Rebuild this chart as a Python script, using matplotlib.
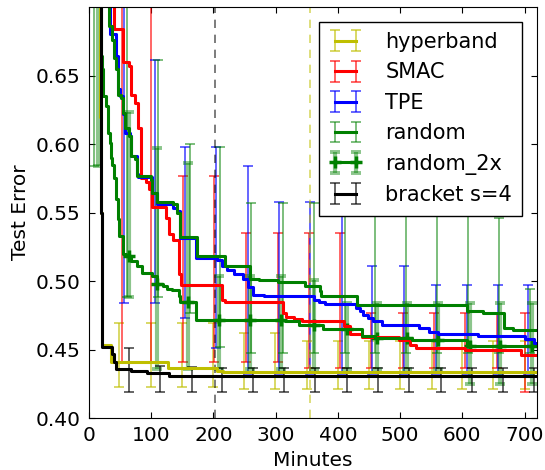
import numpy as np
import matplotlib
matplotlib.use('Agg')
import matplotlib.pyplot as plt

# ---- data (minutes, test error) ----
t_max = 720

hb_x = [0, 18, 19.5, 20.5, 35, 127, 205, 215]
hb_y = [0.90, 0.62, 0.55, 0.4534, 0.441, 0.4368, 0.4345, 0.4333]
hb_ex = [49, 99, 149, 199, 249, 299, 350, 400, 450, 500, 551, 600, 650, 700]
hb_lo = [0.423] * 4 + [0.421] * 10
hb_hi = [0.469] * 4 + [0.462, 0.462] + [0.456] * 8

sm_x = [0, 40, 54, 64, 68, 74, 78, 83, 91, 97, 102, 124, 128, 135, 144, 148,
        213, 219, 312, 317, 330, 342, 410, 420, 438, 499, 516, 525, 605, 695]
sm_y = [0.90, 0.684, 0.660, 0.657, 0.636, 0.630, 0.612, 0.575, 0.572, 0.567,
        0.554, 0.546, 0.534, 0.530, 0.505, 0.497, 0.486, 0.485, 0.477, 0.474,
        0.472, 0.471, 0.467, 0.461, 0.459, 0.457, 0.453, 0.451, 0.450, 0.446]
sm_ex = [53, 100, 151, 201, 253, 303, 353, 403, 453, 505, 555, 605, 656, 700]
sm_lo = [0.441] * 6 + [0.4365] * 7 + [0.419]
sm_hi = [0.90, 0.90, 0.577, 0.577, 0.535, 0.535, 0.535, 0.535,
         0.477, 0.477, 0.477, 0.477, 0.477, 0.477]

tp_x = [0, 34, 43, 46, 50, 54, 58, 65.5, 68, 77, 79.5, 101, 110, 135, 141, 147,
        172, 205, 213, 222, 233, 247, 256, 263, 281, 362, 370, 379, 429, 435,
        440, 448, 457, 471, 530, 547, 561, 625, 700, 715]
tp_y = [0.90, 0.680, 0.664, 0.640, 0.635, 0.622, 0.608, 0.606, 0.591, 0.578,
        0.576, 0.564, 0.5565, 0.553, 0.551, 0.5315, 0.517, 0.5156, 0.511, 0.508,
        0.505, 0.5015, 0.4957, 0.490, 0.489, 0.486, 0.485, 0.4835, 0.480, 0.478,
        0.4755, 0.473, 0.4706, 0.468, 0.4657, 0.463, 0.4616, 0.4596, 0.4577, 0.455]
tp_ex = [57, 106, 155, 204, 256, 306, 355, 407, 455, 506, 557, 607, 657, 705]
tp_lo = [0.484, 0.484, 0.473, 0.451] + [0.432] * 10
tp_hi = [0.90, 0.661, 0.598, 0.598, 0.584, 0.558, 0.558, 0.56,
         0.511, 0.511, 0.497, 0.497, 0.497, 0.497]

rd_x = [0, 32, 37, 40, 43, 46, 51.5, 54, 58, 64, 68, 74, 77, 99, 102, 110, 135,
        141, 147, 174, 219, 258, 273, 303, 347, 371, 373, 431, 608, 633, 667, 681]
rd_y = [0.90, 0.686, 0.676, 0.663, 0.655, 0.636, 0.6337, 0.6227, 0.612, 0.6057,
        0.591, 0.5887, 0.5765, 0.574, 0.564, 0.5575, 0.5565, 0.550, 0.5322,
        0.518, 0.511, 0.5015, 0.5005, 0.499, 0.496, 0.4925, 0.489, 0.4828,
        0.478, 0.4767, 0.4657, 0.4645]
rd_ex = [8, 61, 111, 162, 211, 261, 312, 362, 412, 460, 509, 559, 609, 659, 709]
rd_lo = [0.584, 0.488, 0.488, 0.477, 0.4515] + [0.4477] * 10
rd_hi = [0.90, 0.90, 0.661, 0.60, 0.598, 0.557, 0.557, 0.557,
         0.57, 0.57, 0.57, 0.57, 0.57, 0.546, 0.494]

r2_x = [0, 19, 21, 23, 28, 30, 34, 36, 37.5, 40, 43, 46, 49, 55, 60, 67, 77, 85,
        102, 109, 119, 125, 133, 144, 147, 172, 315, 337, 376, 438, 460, 519, 608]
r2_y = [0.90, 0.664, 0.655, 0.635, 0.628, 0.608, 0.601, 0.590, 0.585, 0.575,
        0.5595, 0.545, 0.5327, 0.520, 0.518, 0.5144, 0.5108, 0.506, 0.5035,
        0.498, 0.496, 0.4945, 0.4932, 0.4889, 0.4847, 0.4718, 0.4706, 0.468,
        0.465, 0.4596, 0.4582, 0.4567, 0.4523]
r2_ex = [15, 64, 110, 159, 209, 259, 309, 362, 414, 463, 511, 561, 612, 661, 712]
r2_lo = [0.584, 0.488] + [0.436] * 10 + [0.425] * 3
r2_hi = [0.90, 0.623, 0.597, 0.586, 0.5035, 0.5035, 0.5035, 0.501] + [0.484] * 7

bk_x = [0, 18.5, 19.5, 20.5, 37, 40, 43, 68, 93, 129]
bk_y = [0.90, 0.65, 0.55, 0.452, 0.447, 0.441, 0.436, 0.4345, 0.4325, 0.431]
bk_ex = [64, 114, 165, 214, 264, 314, 364, 414, 464, 515, 565, 615, 665, 715]
bk_lo = [0.419] * 14
bk_hi = [0.451, 0.438, 0.437] + [0.4365] * 11

vline_black = 203
vline_yellow = 355


def step_value(xs, ys, q):
    idx = np.searchsorted(xs, q, side='right') - 1
    return np.asarray(ys)[idx]


def draw_series(ax, xs, ys, ex, lo, hi, color, ecolor, elw, capthick, label):
    xs = np.asarray(xs, float)
    ex = np.asarray(ex, float)
    xa = np.union1d(np.append(xs, t_max), ex)
    ya = step_value(xs, ys, xa)
    low = np.full(len(xa), np.nan)
    up = np.full(len(xa), np.nan)
    pos = np.searchsorted(xa, ex)
    ey = ya[pos]
    low[pos] = np.clip(ey - np.asarray(lo), 0, None)
    up[pos] = np.clip(np.asarray(hi) - ey, 0, None)
    c = ax.errorbar(xa, ya, yerr=[low, up], color=color, lw=2.2,
                    drawstyle='steps-post', ecolor=ecolor, elinewidth=elw,
                    capsize=3.6, capthick=capthick, label=label)
    return c, ex, ey


plt.rcParams['font.family'] = 'DejaVu Sans'
fig = plt.figure(figsize=(5.45, 4.70), dpi=100)
ax = fig.add_axes([0.1633, 0.1106, 0.822, 0.8745])

yel = (0.75, 0.75, 0.0)
c_hb, _, _ = draw_series(ax, hb_x, hb_y, hb_ex, hb_lo, hb_hi, yel, (0.75, 0.75, 0, 0.7), 1.2, 1.2, 'hyperband')
c_sm, _, _ = draw_series(ax, sm_x, sm_y, sm_ex, sm_lo, sm_hi, 'r', (1, 0, 0, 0.7), 1.2, 1.2, 'SMAC')
c_tp, _, _ = draw_series(ax, tp_x, tp_y, tp_ex, tp_lo, tp_hi, 'b', (0, 0, 1, 0.7), 1.2, 1.2, 'TPE')
c_rd, _, _ = draw_series(ax, rd_x, rd_y, rd_ex, rd_lo, rd_hi, 'g', (0, 0.5, 0, 0.6), 1.2, 1.2, 'random')
c_r2, ex2, ey2 = draw_series(ax, r2_x, r2_y, r2_ex, r2_lo, r2_hi, 'g', (0, 0.5, 0, 0.45), 3.0, 2.8, 'random_2x')
for cap in c_r2[1]:
    cap.set_color((0, 0.5, 0, 1))
mk_r2, = ax.plot(ex2, ey2, ls='none', marker='+', ms=9, mew=2.5, color='g')
c_bk, _, _ = draw_series(ax, bk_x, bk_y, bk_ex, bk_lo, bk_hi, 'k', (0, 0, 0, 0.7), 1.2, 1.2, 'bracket s=4')

ax.axvline(vline_black, color='k', alpha=0.6, lw=1.2, dashes=(5, 4))
ax.axvline(vline_yellow, color=yel, alpha=0.6, lw=1.2, dashes=(5, 4))

ax.set_xlim(0, t_max)
ax.set_ylim(0.40, 0.70)
ax.set_xticks([0, 100, 200, 300, 400, 500, 600, 700])
ax.set_yticks([0.40, 0.45, 0.50, 0.55, 0.60, 0.65])
ax.set_yticklabels(['0.40', '0.45', '0.50', '0.55', '0.60', '0.65'])
ax.tick_params(direction='in', top=True, right=True, length=4, labelsize=14.5, pad=6)
ax.set_xlabel('Minutes', fontsize=14.5, labelpad=4)
ax.set_ylabel('Test Error', fontsize=14.5)

leg = ax.legend([c_hb, c_sm, c_tp, c_rd, (c_r2, mk_r2), c_bk],
                ['hyperband', 'SMAC', 'TPE', 'random', 'random_2x', 'bracket s=4'],
                loc='upper right', fontsize=15, numpoints=2, fancybox=False,
                framealpha=1, edgecolor='k', handlelength=1.6, handletextpad=1.1,
                labelspacing=0.5, borderpad=0.5, borderaxespad=0.7)
leg.get_frame().set_linewidth(1.0)

fig.savefig('out.png', dpi=100)
